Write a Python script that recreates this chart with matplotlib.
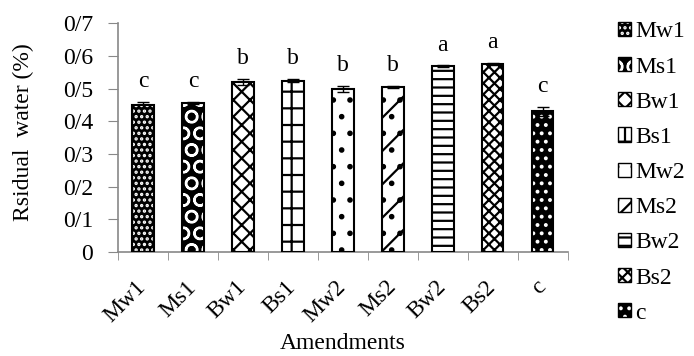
import numpy as np
import matplotlib.pyplot as plt
from matplotlib.patches import Patch
from matplotlib.legend_handler import HandlerTuple

plt.rcParams['font.family'] = ['Liberation Serif', 'DejaVu Serif']
plt.rcParams['hatch.linewidth'] = 1.6

# Residual water per amendment
amendments = ['Mw1', 'Ms1', 'Bw1', 'Bs1', 'Mw2', 'Ms2', 'Bw2', 'Bs2', 'c']
residual = [0.449, 0.456, 0.520, 0.524, 0.498, 0.506, 0.569, 0.575, 0.430]
errors = [0.010, 0.003, 0.010, 0.005, 0.010, 0.003, 0.002, 0.003, 0.013]
letters = ['c', 'c', 'b', 'b', 'b', 'b', 'a', 'a', 'c']
y_ticks = [0, 0.1, 0.2, 0.3, 0.4, 0.5, 0.6, 0.7]
y_labels = ['0', '0/1', '0/2', '0/3', '0/4', '0/5', '0/6', '0/7']

# fill colour, hatch colour, hatch pattern for each bar
styles = [
    ('black', 'white', '...'),
    ('black', 'white', 'O'),
    ('white', 'black', 'xx'),
    ('white', 'black', '+'),
    ('white', 'black', '.'),
    ('white', 'black', '/.'),
    ('white', 'black', '--'),
    ('white', 'black', 'xxx'),
    ('black', 'white', '..'),
]

fs = 17
fig = plt.figure(figsize=(6.94, 3.56), dpi=100)
ax = fig.add_axes([0.170, 0.292, 0.648, 0.643])

x = np.arange(len(amendments))
width = 0.43
handles = []
for i, (face, hcol, hatch) in enumerate(styles):
    ax.bar(x[i], residual[i], width, color=face, edgecolor=hcol, hatch=hatch,
           linewidth=0, zorder=2)
    ax.bar(x[i], residual[i], width, facecolor='none', edgecolor='black',
           linewidth=1.5, zorder=3)
    handles.append((Patch(facecolor=face, edgecolor=hcol, hatch=hatch, linewidth=0),
                    Patch(facecolor='none', edgecolor='black', linewidth=1.0)))

ax.errorbar(x, residual, yerr=errors, fmt='none', ecolor='black',
            elinewidth=1, capsize=4, capthick=1, zorder=4)

for xi, v, e, t in zip(x, residual, errors, letters):
    ax.text(xi, v + e + 0.045, t, ha='center', va='baseline', fontsize=fs)

ax.set_xlim(-0.5, len(amendments) - 0.5)
ax.set_ylim(0, 0.7)
ax.set_yticks(y_ticks)
ax.set_yticklabels(y_labels, fontsize=fs)
ax.set_xticks(x)
ax.set_xticklabels(amendments, rotation=45, ha='right', va='center',
                   rotation_mode='anchor', fontsize=fs)
ax.set_xticks(np.arange(-0.5, len(amendments)), minor=True)
ax.tick_params(axis='x', which='major', length=0, pad=23)
ax.tick_params(axis='x', which='minor', length=6, color='#888888', direction='out')
ax.tick_params(axis='y', length=7, color='#888888', direction='out', pad=11)

for side in ['top', 'right']:
    ax.spines[side].set_visible(False)
for side in ['left', 'bottom']:
    ax.spines[side].set_color('#888888')
    ax.spines[side].set_linewidth(1.2)

ax.set_ylabel('Rsidual  water (%)', fontsize=fs, va='center')
ax.yaxis.set_label_coords(-0.211, 0.524)
ax.set_xlabel('Amendments', fontsize=fs, va='center')
ax.xaxis.set_label_coords(0.5, -0.40)

fig.legend(handles, amendments, handler_map={tuple: HandlerTuple(ndivide=1, pad=0)},
           loc='upper left', bbox_to_anchor=(0.89, 0.94), frameon=False,
           fontsize=fs, handlelength=0.55, handleheight=0.55, handletextpad=0.2,
           labelspacing=0.6, borderpad=0, borderaxespad=0)

fig.savefig('out.png', dpi=100)
